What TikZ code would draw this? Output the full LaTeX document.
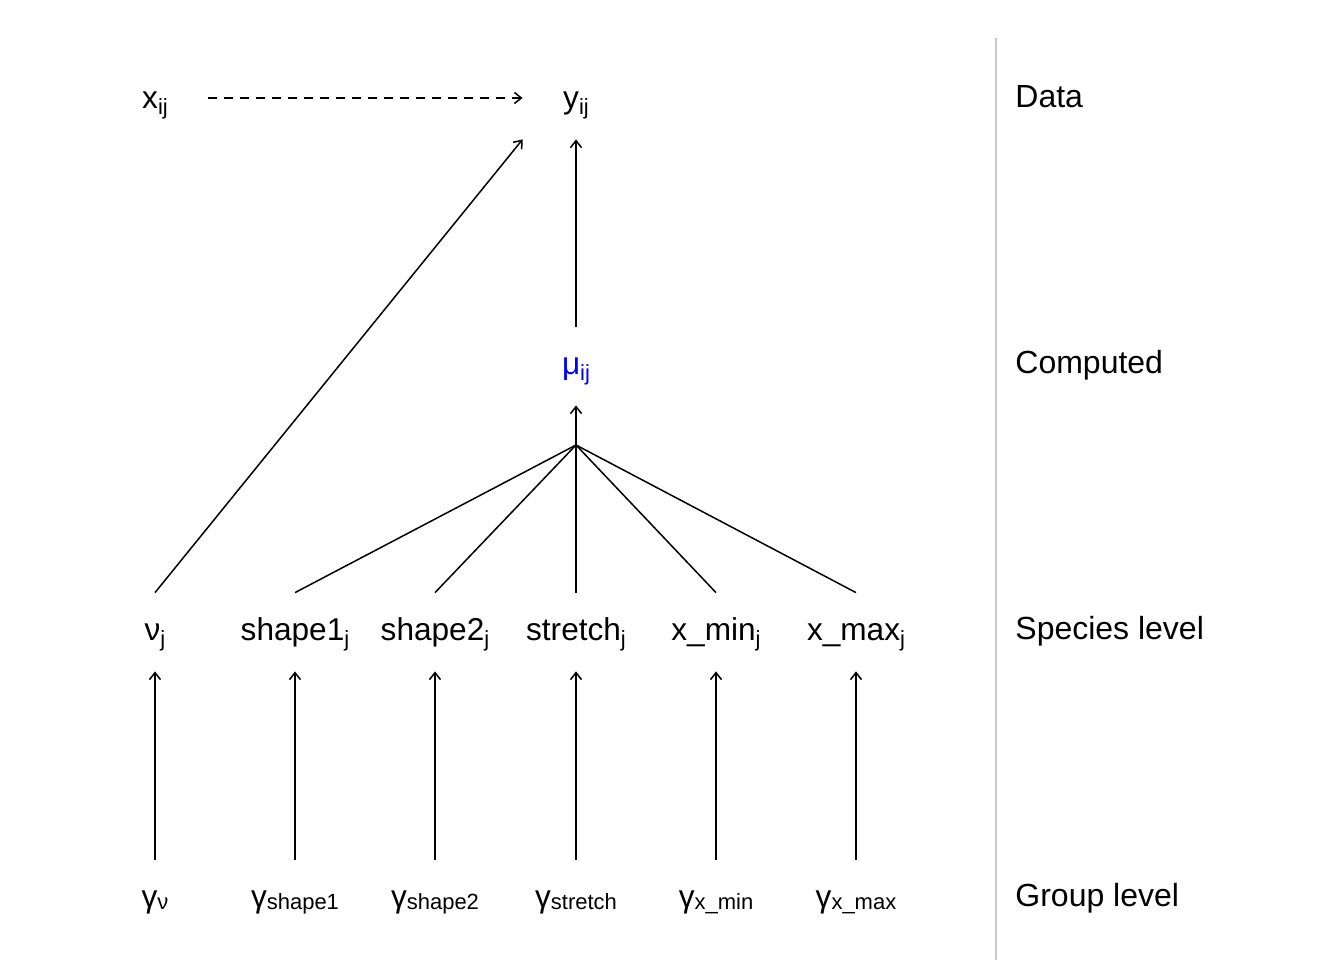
\documentclass[tikz,border=0pt]{standalone}
\usepackage{fontspec}
\setmainfont{Liberation Sans}
\usetikzlibrary{arrows.meta}
\newcommand\lsub[1]{\raisebox{-0.22em}{\fontsize{11}{12}\selectfont #1}}
\newcommand\gsub[1]{\raisebox{-0.08em}{\fontsize{11}{12}\selectfont #1}}
\begin{document}
\begin{tikzpicture}[x=0.5pt,y=-0.5pt,
 lbl/.style={inner sep=0pt, text height=23.5pt, text depth=15.5pt, font=\fontsize{15.8}{18}\selectfont, anchor=base},
 dnode/.style={minimum width=53pt},
 lvl/.style={inner sep=0pt, anchor=base west, font=\fontsize{16}{18}\selectfont},
 conn/.style={line width=0.75pt},
 arr/.style={conn, -{Straight Barb[length=3.5pt,width=5.5pt]}},
 dashline/.style={dash pattern=on 4.5pt off 3.5pt},
]
\useasboundingbox (0,0) rectangle (1344,960);
% data level
\node[lbl, dnode] (x) at (155,108) {x\lsub{ij}};
\node[lbl, dnode] (y) at (576,108) {y\lsub{ij}};
% computed
\node[lbl, text=blue] (mu) at (576,374) {μ\lsub{ij}};
% species level
\node[lbl] (nu) at (155,640) {ν\lsub{j}};
\node[lbl] (s1) at (295,640) {shape1\lsub{j}};
\node[lbl] (s2) at (435,640) {shape2\lsub{j}};
\node[lbl] (st) at (576,640) {stretch\lsub{j}};
\node[lbl] (xmin) at (716,640) {x\_min\lsub{j}};
\node[lbl] (xmax) at (856,640) {x\_max\lsub{j}};
% group level
\node[lbl] (gnu) at (155,907) {γ\gsub{ν}};
\node[lbl] (gs1) at (295,907) {γ\gsub{shape1}};
\node[lbl] (gs2) at (435,907) {γ\gsub{shape2}};
\node[lbl] (gst) at (576,907) {γ\gsub{stretch}};
\node[lbl] (gxmin) at (716,907) {γ\gsub{x\_min}};
\node[lbl] (gxmax) at (856,907) {γ\gsub{x\_max}};
% level labels
\node[lvl] (ldata) at (1015,107) {Data};
\node[lvl] (lcomp) at (1015,373) {Computed};
\node[lvl] (lspec) at (1015,639) {Species level};
\node[lvl] (lgroup) at (1015,906) {Group level};
% separator
\coordinate (sepTop) at (996,38);
\coordinate (sepBot) at (996,960);
\draw[black!22, line width=1pt] (sepTop) -- (sepBot);
% connectors
\coordinate (J) at (576,445);
\draw[arr, dashline] ([yshift=1pt]x.east) -- ([yshift=1pt]y.west);
\draw[arr] (mu.north) -- (y.south);
\draw[arr] (nu.north) -- (y.south west);
\draw[arr] (J) -- (mu.south);
\foreach \n in {s1,s2,st,xmin,xmax} \draw[conn] (\n.north) -- (J);
\draw[arr] (gnu.north) -- (nu.south);
\draw[arr] (gs1.north) -- (s1.south);
\draw[arr] (gs2.north) -- (s2.south);
\draw[arr] (gst.north) -- (st.south);
\draw[arr] (gxmin.north) -- (xmin.south);
\draw[arr] (gxmax.north) -- (xmax.south);
\end{tikzpicture}
\end{document}
